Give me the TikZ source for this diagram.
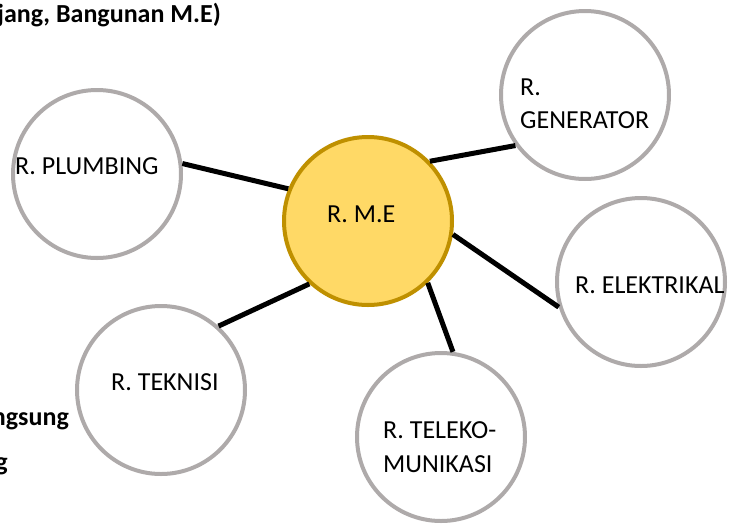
\documentclass[tikz,border=0pt]{standalone}
\usepackage{fontspec}
\setmainfont{Carlito}
\usetikzlibrary{positioning}
\definecolor{ringgray}{HTML}{AEAAAA}
\definecolor{mefill}{HTML}{FFD966}
\definecolor{medraw}{HTML}{BF9000}
\tikzset{
  room/.style={circle,draw=ringgray,fill=white,line width=4pt,minimum size=168pt,inner sep=0pt},
  hub/.style={room,draw=medraw,fill=mefill},   % central room
  lbl/.style={font=\fontsize{26}{31}\selectfont,inner sep=0pt,anchor=base west},
  note/.style={font=\fontsize{26}{31}\selectfont\bfseries,inner sep=0pt,anchor=base east},
  link/.style={line width=5pt},
}
\begin{document}
\begin{tikzpicture}[x=1pt,y=-1pt]
  \useasboundingbox (0,0) rectangle (729,523);
  % rooms
  \node[hub]  (me)    at (368,221) {};
  \node[room] (plumb) at (97,174)  {};
  \node[room] (gen)   at (585,95)  {};
  \node[room] (elek)  at (641,282) {};
  \node[room] (tekn)  at (161,390) {};
  \node[room] (tele)  at (441,437) {};
  % links to R. M.E
  \draw[link] (plumb.7)  -- (me.158);
  \draw[link] (gen.216)  -- (me.44);
  \draw[link] (elek.197) -- (me.351);
  \draw[link] (tele.82)  -- (me.314);
  \draw[link] (tekn.48)  -- (me.227);
  % room names
  \node[lbl] (meT)    at (327,222) {R. M.E};
  \node[lbl] (plumbT) at (15,174)  {R. PLUMBING};
  \node[lbl] (genA)   at (520,95)  {R.};
  \node[lbl] (genB)   at (520,128) {GENERATOR};
  \node[lbl] (elekT)  at (575,293) {R. ELEKTRIKAL};
  \node[lbl] (teknT)  at (111,390) {R. TEKNISI};
  \node[lbl] (teleA)  at (383,438) {R. TELEKO-};
  \node[lbl] (teleB)  at (383,472) {MUNIKASI};
  % cut-off text at the edges
  \node[note] (head)  at (221,22)  {jang, Bangunan M.E)};
  \node[note] (leftA) at (69,425)  {ngsung};
  \node[note] (leftB) at (8,470)   {g};
\end{tikzpicture}
\end{document}
